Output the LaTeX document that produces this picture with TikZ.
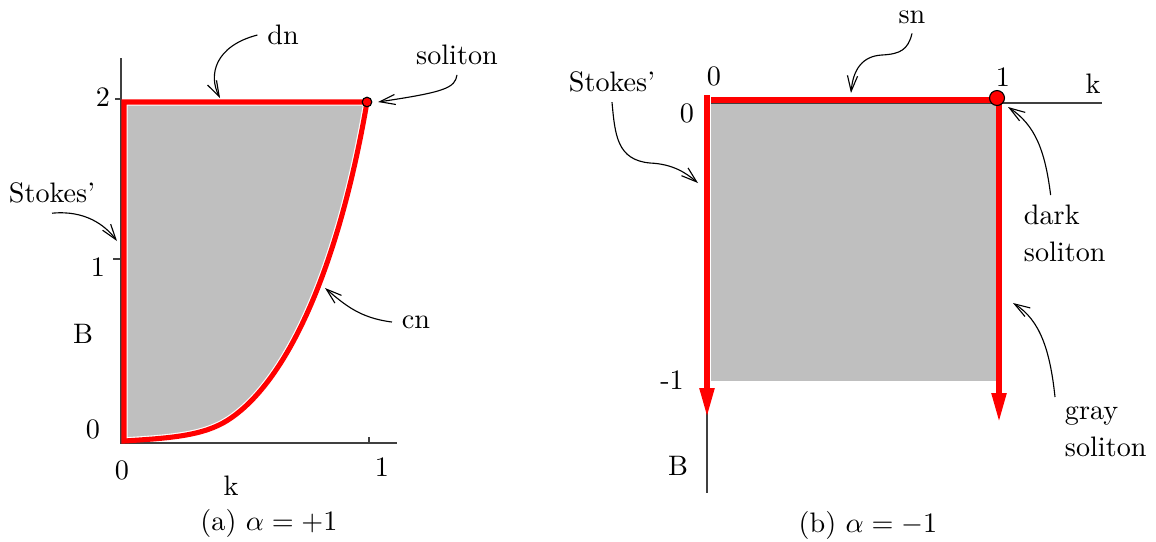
\documentclass[tikz,border=0pt]{standalone}
\usetikzlibrary{arrows.meta}
\definecolor{regiongray}{RGB}{191,191,191}
\definecolor{axisgray}{RGB}{64,64,64}
\begin{document}
\begin{tikzpicture}[x=.355pt,y=-.355pt,
  axisline/.style={axisgray,line width=.45pt},
  redline/.style={red,line width=1.8pt},
  pointer/.style={line width=.4pt,-{Straight Barb[length=5.5pt,width=3.6pt]}},
  redarrow/.style={redline,-{Triangle[length=10.3pt,width=5pt]}},
  dotmark/.style={circle,draw=black,fill=red,line width=.4pt,inner sep=0pt}]
\useasboundingbox(0,0)rectangle(1156,541);
% (a) alpha=+1
\filldraw[fill=regiongray,draw=white,line width=2.6pt](124,102)--(124,441)..controls(170,438)and(203,436)..(228,420)..controls(290,380)and(340,260)..(367,102)--cycle;
\draw[axisline](121,58)--(121,443)--(397,443);
\draw[axisline](115,99)--(121,99) (113,259)--(121,259) (369,437)--(369,443);
\draw[redline](124,102)--(124,441)..controls(170,438)and(203,436)..(228,420)..controls(290,380)and(340,260)..(367,102)--cycle;
\node[dotmark,minimum size=3.4pt](adot)at(367,102){};
\node(btwo)at(103,97){2};\node(bone)at(98,267){1};\node(bzero)at(93,429){0};
\node(kzero)at(122,470){0};\node(kone)at(382,467){1};
\node(ka)at(231,486){k};\node(Ba)at(83,334){B};
\node(dn)at(283,35){dn};\node(sola)at(457,55){soliton};
\node(stka)at(52,193){Stokes'};\node(cn)at(416,322){cn};
\coordinate(dntip)at(220,98);\coordinate(soltip)at(378,102);
\coordinate(stktipa)at(117,241);\coordinate(cntip)at(325,288);
\draw[pointer](dn.west)..controls(215,46)and(208,75)..(dntip);
\draw[pointer](sola.south)..controls(455,88)and(445,92)..(soltip);
\draw[pointer](stka.south)..controls(85,210)and(105,225)..(stktipa);
\draw[pointer](cn.west)..controls(360,318)and(345,305)..(cntip);
\node(capa)at(269,523){(a) $\alpha=+1$};
% (b) alpha=-1
\fill[regiongray](711,104)rectangle(997,381);
\draw[axisline](707,95)--(707,493);
\draw[axisline](711,103)--(1102,103);
\draw[redarrow](707,95)--(707,417);
\draw[redline](711,100)--(997,100);
\draw[redarrow](999,100)--(999,422);
\node[dotmark,minimum size=5.3pt](bdot)at(997,98){};
\node(kzb)at(714,76){0};\node(kob)at(1003,77){1};\node(kb)at(1093,84){k};
\node(bzb)at(687,113){0};\node(bmb)at(672,380){-1};\node(Bb)at(678,466){B};
\node(stkb)at(612,82){Stokes'};\node(sn)at(912,17){sn};
\node[anchor=north west,align=left](dksol)at(1014,195){dark\\[1pt]soliton};
\node[anchor=north west,align=left](grsol)at(1055,397){gray\\[1pt]soliton};
\coordinate(stktipb)at(698,183);\coordinate(sntip)at(851,93);
\coordinate(dktip)at(1008,107);\coordinate(grtip)at(1013,303);
\draw[pointer](stkb.south)..controls(615,135)and(617,160)..(650,163)..controls(672,164)and(685,172)..(stktipb);
\draw[pointer](sn.south)..controls(908,50)and(900,54)..(882,55)..controls(862,56)and(853,70)..(sntip);
\draw[pointer]([xshift=13pt]dksol.north west)..controls(1045,150)and(1035,125)..(dktip);
\draw[pointer](grsol.north west)..controls(1050,350)and(1040,320)..(grtip);
\node(capb)at(868,525){(b) $\alpha=-1$};
\end{tikzpicture}
\end{document}
